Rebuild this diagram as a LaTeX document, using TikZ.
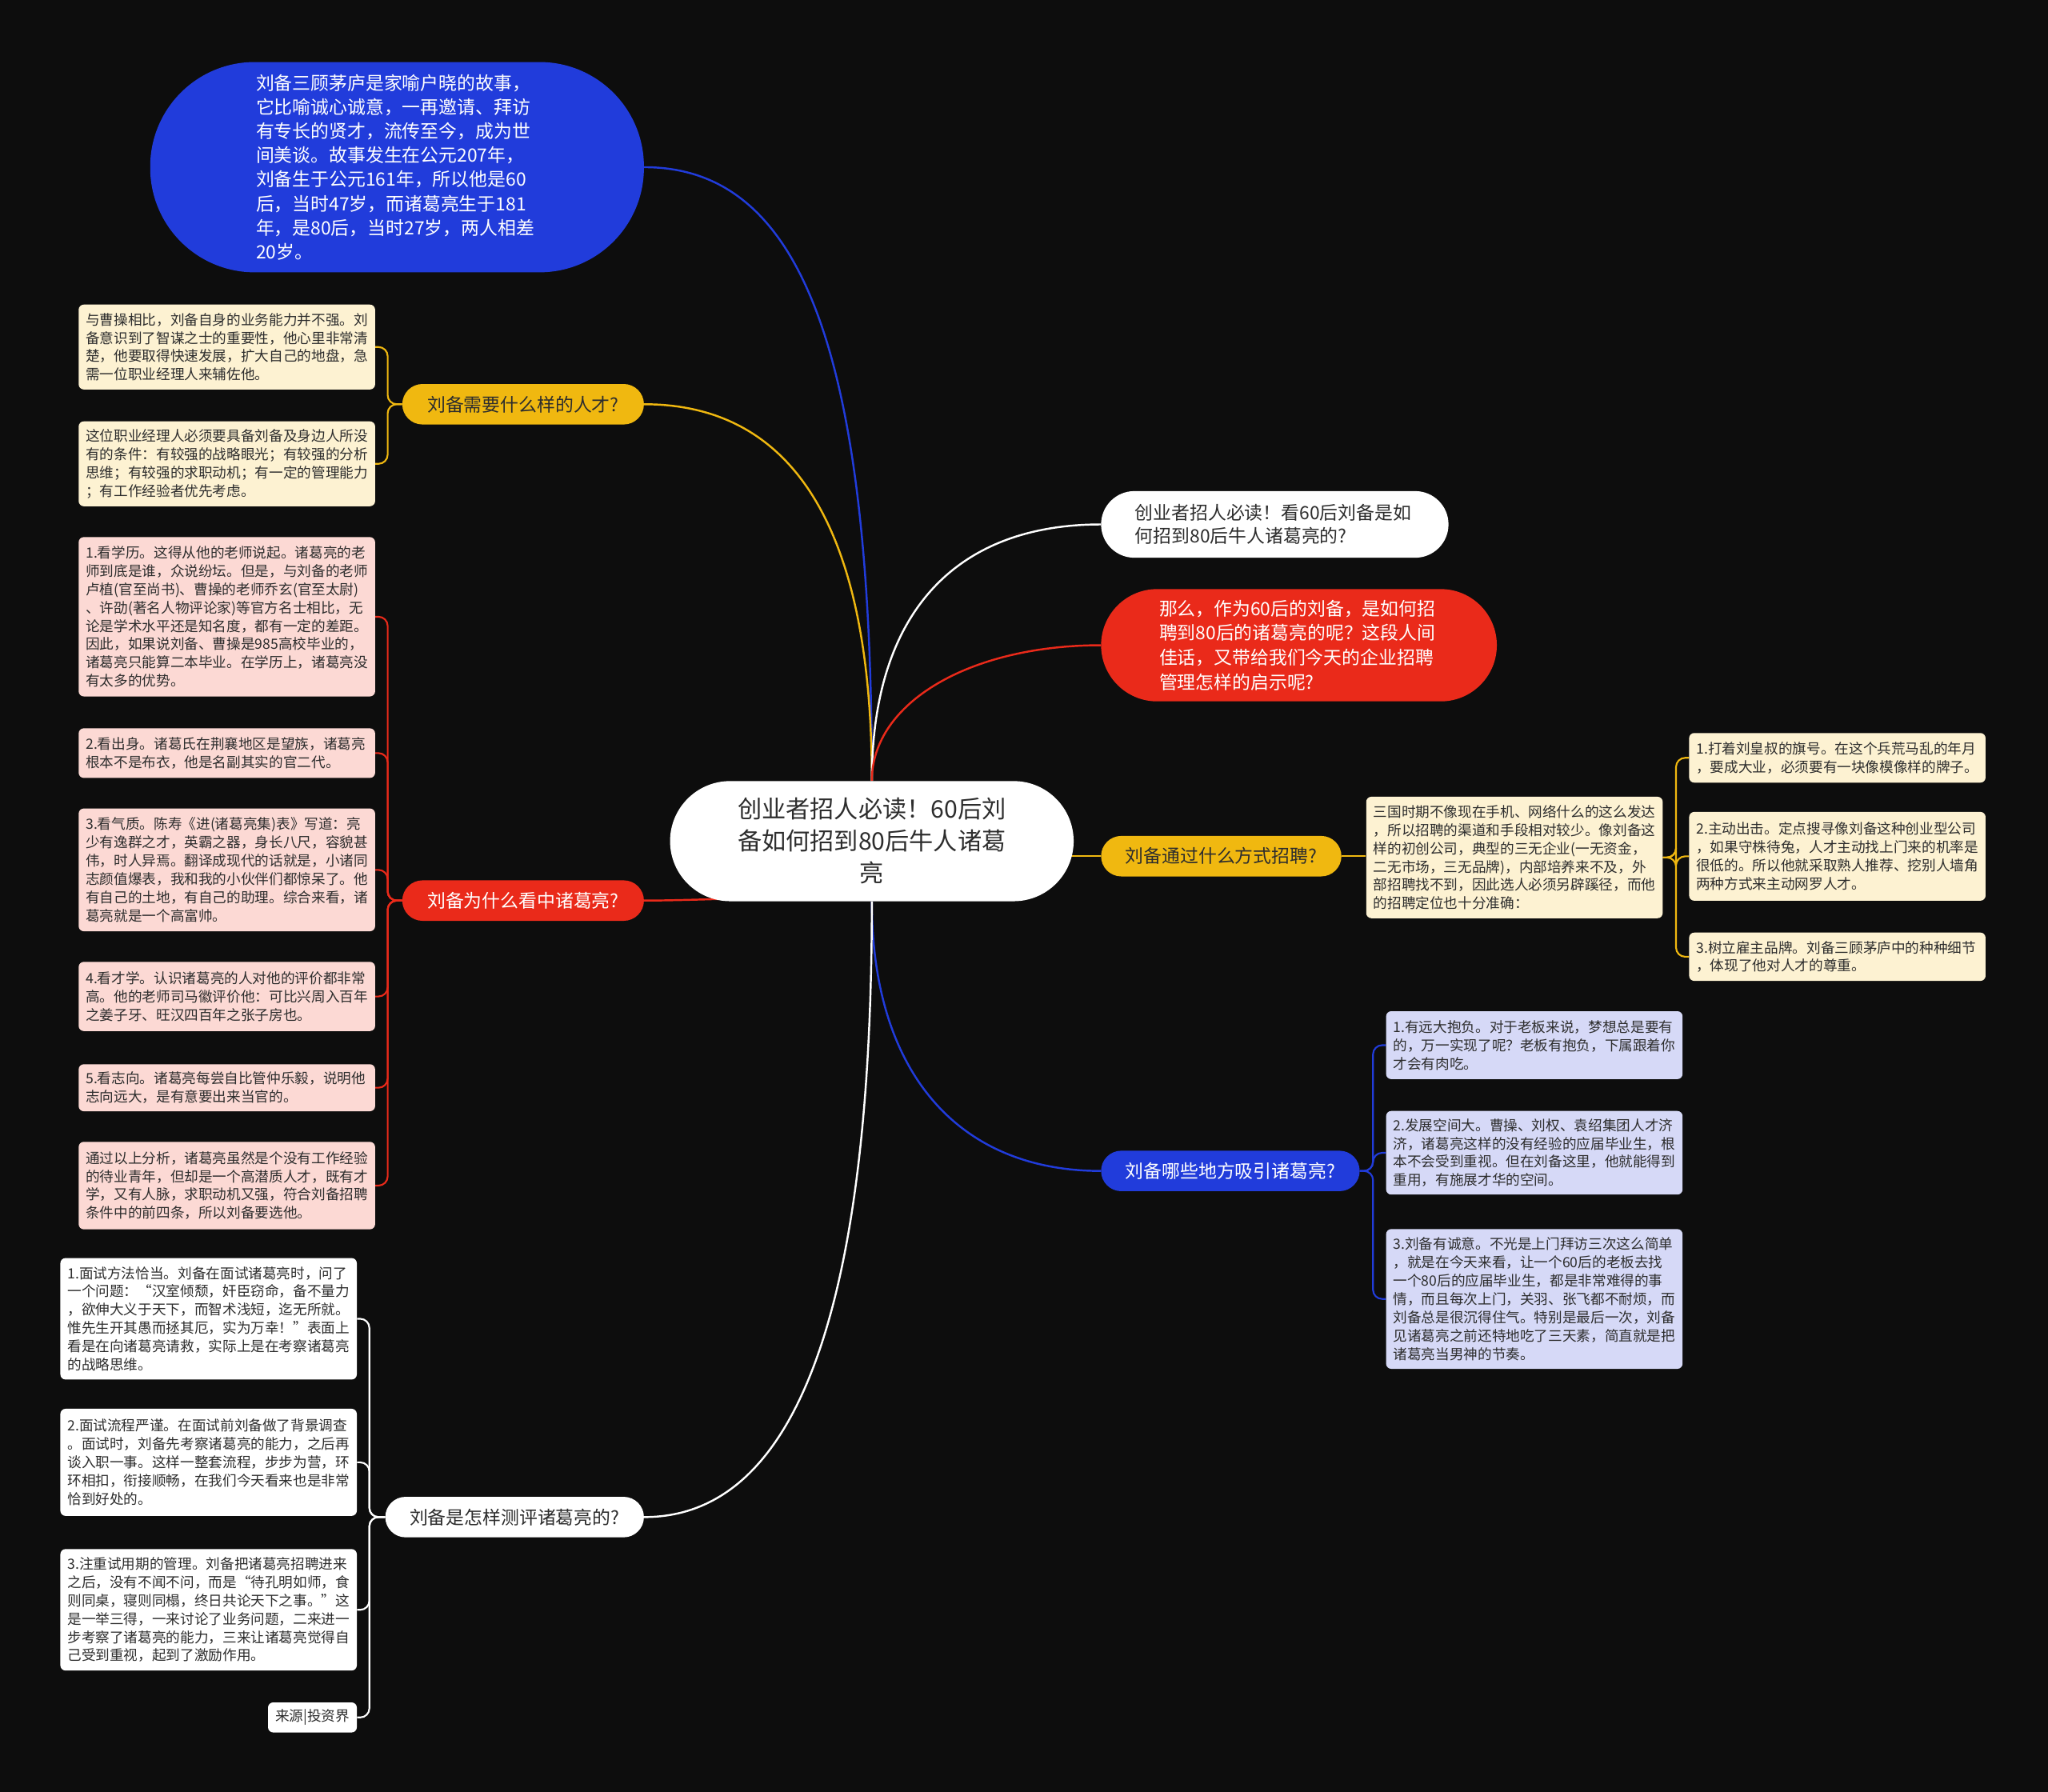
\documentclass[tikz,border=0pt]{standalone}
\usepackage{fontspec}
\setmainfont{Noto Sans CJK SC}
\usetikzlibrary{positioning, backgrounds}

\definecolor{bgdark}{RGB}{13,13,13}
\definecolor{mapblue}{RGB}{33,60,219}
\definecolor{mapred}{RGB}{234,42,26}
\definecolor{mapyellow}{RGB}{240,184,16}
\definecolor{creamleaf}{RGB}{253,242,210}
\definecolor{pinkleaf}{RGB}{252,217,212}
\definecolor{lilacleaf}{RGB}{214,217,247}
\definecolor{darktext}{RGB}{45,45,45}

\begin{document}
\begin{tikzpicture}[
    x=1pt, y=-1pt,
    node distance=24pt,
    topic/.style={rounded corners=15.5pt, minimum height=31pt, inner sep=0pt, align=center, font=\fontsize{14}{17}\selectfont},
    leaf/.style={rounded corners=4pt, text width=216pt, inner xsep=5.5pt, inner ysep=0pt, align=left, font=\fontsize{10.8}{14}\selectfont, text=darktext},
    link/.style={line width=1.5pt},
    twig/.style={line width=1.3pt, rounded corners=7pt}
]
\useasboundingbox (0,0) rectangle (1568,1372);

% Root and the two big bubbles
\node[fill=white, text=darktext, rounded corners=46pt, minimum width=309pt, minimum height=92pt, align=center, font=\fontsize{18.5}{24.5}\selectfont] (root) at (667.5,644)
  {创业者招人必读！60后刘\\备如何招到80后牛人诸葛\\亮};

\node[fill=mapblue, text=white, rounded corners=80pt, minimum width=378pt, minimum height=161pt, text width=216pt, align=left, font=\fontsize{14}{18.5}\selectfont] (story) at (304,128)
  {刘备三顾茅庐是家喻户晓的故事，\\它比喻诚心诚意，一再邀请、拜访\\有专长的贤才，流传至今，成为世\\间美谈。故事发生在公元207年，\\刘备生于公元161年，所以他是60\\后，当时47岁，而诸葛亮生于181\\年，是80后，当时27岁，两人相差\\20岁。};

\node[fill=white, text=darktext, rounded corners=25.5pt, minimum width=266pt, minimum height=51pt, text width=214pt, align=left, font=\fontsize{14}{18}\selectfont] (title) at (976,401.5)
  {创业者招人必读！看60后刘备是如\\何招到80后牛人诸葛亮的?};

\node[fill=mapred, text=white, rounded corners=43pt, minimum width=303pt, minimum height=86pt, text width=214pt, align=left, font=\fontsize{14}{18.7}\selectfont] (hint) at (994.5,494)
  {那么，作为60后的刘备，是如何招\\聘到80后的诸葛亮的呢？这段人间\\佳话，又带给我们今天的企业招聘\\管理怎样的启示呢?};

% Topics
\node[topic, fill=mapyellow, text=darktext, minimum width=185pt] (need) at (400.5,309.5) {刘备需要什么样的人才?};
\node[topic, fill=mapred, text=white, minimum width=185pt] (why) at (400.5,689.5) {刘备为什么看中诸葛亮?};
\node[topic, fill=white, text=darktext, minimum width=198pt] (test) at (394,1161.5) {刘备是怎样测评诸葛亮的?};
\node[topic, fill=mapyellow, text=darktext, minimum width=184pt] (way) at (935,655.5) {刘备通过什么方式招聘?};
\node[topic, fill=mapblue, text=white, minimum width=198pt] (lure) at (942,896.5) {刘备哪些地方吸引诸葛亮?};

% Leaves: what kind of talent
\node[leaf, fill=creamleaf, minimum height=65pt, anchor=north west] (need1) at (60,233)
  {与曹操相比，刘备自身的业务能力并不强。刘\\备意识到了智谋之士的重要性，他心里非常清\\楚，他要取得快速发展，扩大自己的地盘，急\\需一位职业经理人来辅佐他。};
\node[leaf, fill=creamleaf, minimum height=65pt, below=of need1] (need2)
  {这位职业经理人必须要具备刘备及身边人所没\\有的条件：有较强的战略眼光；有较强的分析\\思维；有较强的求职动机；有一定的管理能力\\；有工作经验者优先考虑。};

% Leaves: why Zhuge Liang
\node[leaf, fill=pinkleaf, minimum height=122pt, anchor=north west] (why1) at (60,411)
  {1.看学历。这得从他的老师说起。诸葛亮的老\\师到底是谁，众说纷坛。但是，与刘备的老师\\卢植(官至尚书)、曹操的老师乔玄(官至太尉)\\、许劭(著名人物评论家)等官方名士相比，无\\论是学术水平还是知名度，都有一定的差距。\\因此，如果说刘备、曹操是985高校毕业的，\\诸葛亮只能算二本毕业。在学历上，诸葛亮没\\有太多的优势。};
\node[leaf, fill=pinkleaf, minimum height=38pt, below=of why1] (why2)
  {2.看出身。诸葛氏在荆襄地区是望族，诸葛亮\\根本不是布衣，他是名副其实的官二代。};
\node[leaf, fill=pinkleaf, minimum height=94pt, below=23pt of why2] (why3)
  {3.看气质。陈寿《进(诸葛亮集)表》写道：亮\\少有逸群之才，英霸之器，身长八尺，容貌甚\\伟，时人异焉。翻译成现代的话就是，小诸同\\志颜值爆表，我和我的小伙伴们都惊呆了。他\\有自己的土地，有自己的助理。综合来看，诸\\葛亮就是一个高富帅。};
\node[leaf, fill=pinkleaf, minimum height=53pt, below=23pt of why3] (why4)
  {4.看才学。认识诸葛亮的人对他的评价都非常\\高。他的老师司马徽评价他：可比兴周入百年\\之姜子牙、旺汉四百年之张子房也。};
\node[leaf, fill=pinkleaf, minimum height=36pt, below=25pt of why4] (why5)
  {5.看志向。诸葛亮每尝自比管仲乐毅，说明他\\志向远大，是有意要出来当官的。};
\node[leaf, fill=pinkleaf, minimum height=67pt, below=23pt of why5] (why6)
  {通过以上分析，诸葛亮虽然是个没有工作经验\\的待业青年，但却是一个高潜质人才，既有才\\学，又有人脉，求职动机又强，符合刘备招聘\\条件中的前四条，所以刘备要选他。};

% Leaves: how he tested him
\node[leaf, fill=white, minimum height=93pt, anchor=north west] (test1) at (46,963)
  {1.面试方法恰当。刘备在面试诸葛亮时，问了\\一个问题：“汉室倾颓，奸臣窃命，备不量力\\，欲伸大义于天下，而智术浅短，迄无所就。\\惟先生开其愚而拯其厄，实为万幸！”表面上\\看是在向诸葛亮请救，实际上是在考察诸葛亮\\的战略思维。};
\node[leaf, fill=white, minimum height=82pt, below=22pt of test1] (test2)
  {2.面试流程严谨。在面试前刘备做了背景调查\\。面试时，刘备先考察诸葛亮的能力，之后再\\谈入职一事。这样一整套流程，步步为营，环\\环相扣，衔接顺畅，在我们今天看来也是非常\\恰到好处的。};
\node[leaf, fill=white, minimum height=93pt, below=25pt of test2] (test3)
  {3.注重试用期的管理。刘备把诸葛亮招聘进来\\之后，没有不闻不问，而是“待孔明如师，食\\则同桌，寝则同榻，终日共论天下之事。”这\\是一举三得，一来讨论了业务问题，二来进一\\步考察了诸葛亮的能力，三来让诸葛亮觉得自\\己受到重视，起到了激励作用。};
\node[leaf, fill=white, minimum height=23pt, text width=57pt, align=center, below=of test3.south east, anchor=north east] (source)
  {来源|投资界};

% Leaves: recruiting channels
\node[leaf, fill=creamleaf, minimum height=93pt] (waymain) at (1159.5,656.5)
  {三国时期不像现在手机、网络什么的这么发达\\，所以招聘的渠道和手段相对较少。像刘备这\\样的初创公司，典型的三无企业(一无资金，\\二无市场，三无品牌)，内部培养来不及，外\\部招聘找不到，因此选人必须另辟蹊径，而他\\的招聘定位也十分准确：};
\node[leaf, fill=creamleaf, minimum height=38pt, anchor=north west] (way1) at (1293,561)
  {1.打着刘皇叔的旗号。在这个兵荒马乱的年月\\，要成大业，必须要有一块像模像样的牌子。};
\node[leaf, fill=creamleaf, minimum height=68pt, below=22pt of way1] (way2)
  {2.主动出击。定点搜寻像刘备这种创业型公司\\，如果守株待兔，人才主动找上门来的机率是\\很低的。所以他就采取熟人推荐、挖别人墙角\\两种方式来主动网罗人才。};
\node[leaf, fill=creamleaf, minimum height=37pt, below=of way2] (way3)
  {3.树立雇主品牌。刘备三顾茅庐中的种种细节\\，体现了他对人才的尊重。};

% Leaves: what attracted him
\node[leaf, fill=lilacleaf, minimum height=52pt, anchor=north west] (lure1) at (1061,774)
  {1.有远大抱负。对于老板来说，梦想总是要有\\的，万一实现了呢？老板有抱负，下属跟着你\\才会有肉吃。};
\node[leaf, fill=lilacleaf, minimum height=64pt, below=of lure1] (lure2)
  {2.发展空间大。曹操、刘权、袁绍集团人才济\\济，诸葛亮这样的没有经验的应届毕业生，根\\本不会受到重视。但在刘备这里，他就能得到\\重用，有施展才华的空间。};
\node[leaf, fill=lilacleaf, minimum height=107pt, below=26pt of lure2] (lure3)
  {3.刘备有诚意。不光是上门拜访三次这么简单\\，就是在今天来看，让一个60后的老板去找\\一个80后的应届毕业生，都是非常难得的事\\情，而且每次上门，关羽、张飞都不耐烦，而\\刘备总是很沉得住气。特别是最后一次，刘备\\见诸葛亮之前还特地吃了三天素，简直就是把\\诸葛亮当男神的节奏。};

% Connections
\begin{scope}[on background layer]
  \fill[bgdark] (0,0) rectangle (1568,1372);

  \draw[link, mapblue] (root.north) .. controls +(0,-330) and +(120,0) .. (story.east);
  \draw[link, mapyellow] (root.north) .. controls +(0,-200) and +(110,0) .. (need.east);
  \draw[link, white] (root.north) .. controls +(0,-130) and +(-110,0) .. (title.west);
  \draw[link, mapred] (root.north) .. controls +(0,-60) and +(-100,0) .. (hint.west);
  \draw[link, mapyellow] (way.west) -- (way.west -| root.center);
  \draw[link, mapblue] (root.south) .. controls +(0,130) and +(-110,0) .. (lure.west);
  \draw[link, white] (root.south) .. controls +(0,330) and +(110,0) .. (test.east);
  \draw[link, mapred] (why.east) .. controls +(40,0) and +(-40,0) .. ([yshift=5pt]root.south);

  \foreach \leafname in {need1,need2}
    \draw[twig, mapyellow] (need.west) -- ++(-11,0) |- (\leafname.east);
  \foreach \leafname in {why1,why2,why3,why4,why5,why6}
    \draw[twig, mapred] (why.west) -- ++(-11,0) |- (\leafname.east);
  \foreach \leafname in {test1,test2,test3,source}
    \draw[twig, white] (test.west) -- ++(-12,0) |- (\leafname.east);
  \draw[twig, mapyellow] (way.east) -- (way.east -| waymain.west);
  \foreach \leafname in {way1,way2,way3}
    \draw[twig, mapyellow] (waymain.east) -- ++(10,0) |- (\leafname.west);
  \foreach \leafname in {lure1,lure2,lure3}
    \draw[twig, mapblue] (lure.east) -- ++(10,0) |- (\leafname.west);
\end{scope}

\end{tikzpicture}
\end{document}
